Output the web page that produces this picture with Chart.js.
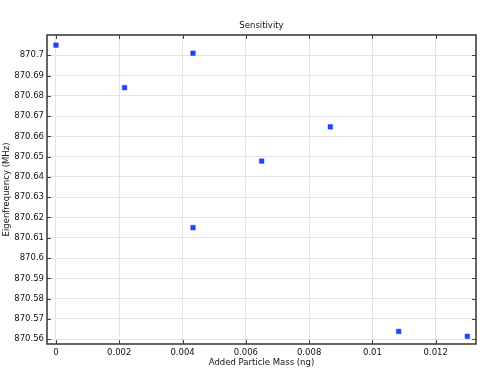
<!DOCTYPE html>
<html lang="en">
<head>
    <meta charset="UTF-8">
    <title>Sensitivity</title>
    <script src="https://cdn.jsdelivr.net/npm/chart.js"></script>
    <style>
        body { margin: 0; background: #fff; }
        canvas { display: block; }
    </style>
</head>
<body>
    <canvas id="sensChart" width="484" height="373"></canvas>

    <script>
        // Data
        const addedMass = [0, 0.002167, 0.00433, 0.00433, 0.0065, 0.00867, 0.01083, 0.013];
        const eigenFreq = [870.705, 870.684, 870.701, 870.615, 870.6478, 870.6647, 870.5638, 870.5614];
        const xTicks = [0, 0.002, 0.004, 0.006, 0.008, 0.01, 0.012];
        const yTicks = [870.56, 870.57, 870.58, 870.59, 870.6, 870.61, 870.62, 870.63,
                        870.64, 870.65, 870.66, 870.67, 870.68, 870.69, 870.7];

        const FONT = 'DejaVu Sans';
        const textCol = '#111';

        // frame, inward ticks and text labels
        const framePlugin = {
            id: 'frame',
            afterDraw(chart) {
                const { ctx, chartArea: a, scales } = chart;
                ctx.save();
                ctx.strokeStyle = '#444';
                ctx.lineWidth = 1;
                ctx.beginPath();
                xTicks.forEach(v => {
                    const px = Math.round(scales.x.getPixelForValue(v)) + 0.5;
                    ctx.moveTo(px, a.bottom); ctx.lineTo(px, a.bottom - 4);
                    ctx.moveTo(px, a.top); ctx.lineTo(px, a.top + 4);
                });
                yTicks.forEach(v => {
                    const py = Math.round(scales.y.getPixelForValue(v)) + 0.5;
                    ctx.moveTo(a.left, py); ctx.lineTo(a.left + 4, py);
                    ctx.moveTo(a.right, py); ctx.lineTo(a.right - 4, py);
                });
                ctx.stroke();

                ctx.strokeStyle = '#333';
                ctx.lineWidth = 1.5;
                ctx.strokeRect(a.left, a.top, a.right - a.left, a.bottom - a.top);

                ctx.fillStyle = textCol;
                ctx.font = '8.5px ' + FONT;
                ctx.textAlign = 'center';
                ctx.textBaseline = 'middle';
                const cx = (a.left + a.right) / 2;
                ctx.fillText('Sensitivity', cx, 26);
                ctx.fillText('Added Particle Mass (ng)', cx, 363);

                ctx.translate(7, (a.top + a.bottom) / 2);
                ctx.rotate(-Math.PI / 2);
                ctx.fillText('Eigenfrequency (MHz)', 0, 0);
                ctx.restore();
            }
        };

        const ctx = document.getElementById('sensChart').getContext('2d');
        const sensChart = new Chart(ctx, {
            type: 'scatter',
            data: {
                datasets: [{
                    label: 'Eigenfrequency',
                    data: addedMass.map((m, i) => ({ x: m, y: eigenFreq[i] })),
                    pointStyle: 'rect',
                    pointRadius: 3.3,
                    backgroundColor: '#1f44ff',
                    borderColor: 'rgba(31,68,255,0.45)',
                    borderWidth: 1
                }]
            },
            options: {
                responsive: false,
                animation: false,
                layout: { padding: { top: 35, right: 8, left: 0, bottom: 0 } },
                plugins: {
                    legend: { display: false },
                    tooltip: { enabled: false }
                },
                scales: {
                    x: {
                        type: 'linear',
                        min: -0.000284,
                        max: 0.013274,
                        afterBuildTicks: s => { s.ticks = xTicks.map(v => ({ value: v })); },
                        afterFit: s => { s.height = 29; },
                        grid: { color: '#e4e4e4', drawTicks: false },
                        border: { display: false },
                        ticks: {
                            padding: 4,
                            color: textCol,
                            font: { family: FONT, size: 8.5 },
                            maxRotation: 0,
                            callback: v => String(+v.toFixed(4))
                        }
                    },
                    y: {
                        type: 'linear',
                        min: 870.5576,
                        max: 870.7100,
                        afterBuildTicks: s => { s.ticks = yTicks.map(v => ({ value: v })); },
                        afterFit: s => { s.width = 47; },
                        grid: { color: '#e4e4e4', drawTicks: false },
                        border: { display: false },
                        ticks: {
                            padding: 3,
                            color: textCol,
                            font: { family: FONT, size: 8.5 },
                            callback: v => String(+v.toFixed(2))
                        }
                    }
                }
            },
            plugins: [framePlugin]
        });
    </script>
</body>
</html>
